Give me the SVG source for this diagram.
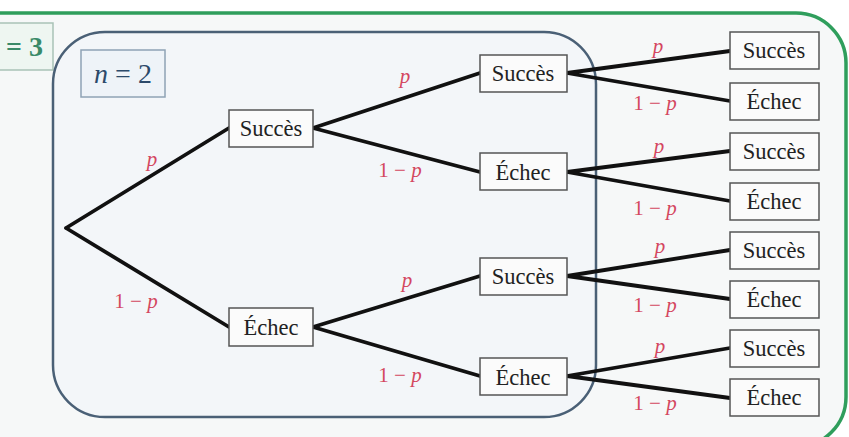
<svg xmlns="http://www.w3.org/2000/svg" width="849" height="437" viewBox="0 0 849 437">
<defs>
<style>
.bg{fill:#ffffff}
.outer{fill:#f6f8f8;stroke:#2f9e5c;stroke-width:3.5}
.inner{fill:#f3f6f9;stroke:#4a6076;stroke-width:2.5}
.tag3{fill:#eef6f1;stroke:#a9c2b6;stroke-width:1.5}
.tag2{fill:#eef3f8;stroke:#8fa3b5;stroke-width:1.5}
.box{fill:#fbfbfb;stroke:#555;stroke-width:1.5}
.lbl{font-family:"Liberation Serif","Times New Roman",serif;font-size:22.5px;fill:#222;text-anchor:middle}
.prob{font-family:"Liberation Serif","Times New Roman",serif;font-size:21px;fill:#d4475f;text-anchor:middle}
.it{font-style:italic}
.edge{stroke:#111;stroke-width:3.8;fill:none;stroke-linecap:round}
</style>
</defs>
<rect class="bg" x="0" y="0" width="849" height="437"/>
<rect class="outer" x="-60" y="13" width="906" height="434" rx="50" ry="50"/>
<g id="tag-n3">
<rect class="tag3" x="-6" y="23" width="59" height="47"/>
<text x="6" y="56" font-family="'Liberation Serif', serif" font-size="28" font-weight="bold" fill="#3a8a68">= 3</text>
</g>
<rect class="inner" x="53" y="32" width="543" height="385" rx="52" ry="52"/>
<g id="tag-n2">
<rect class="tag2" x="81" y="50" width="84" height="47"/>
<text x="123" y="83" text-anchor="middle" font-family="'Liberation Serif', serif" font-size="28" fill="#2c4a6a"><tspan font-style="italic">n</tspan> = 2</text>
</g>
<g id="connectors">
<path class="edge" d="M66 228 L229 128 M66 228 L229 327"/>
<path class="edge" d="M313 128 L480 73 M313 128 L480 172 M313 327 L480 276 M313 327 L480 376"/>
<path class="edge" d="M567 73 L730 51 M567 73 L730 101 M567 172 L730 151 M567 172 L730 201 M567 276 L730 250 M567 276 L730 299 M567 376 L730 348 M567 376 L730 398"/>
</g>
<g id="edge-labels">
<text class="prob it" x="152" y="166">p</text>
<text class="prob" x="136" y="308">1 − <tspan class="it">p</tspan></text>
<text class="prob it" x="405" y="83">p</text>
<text class="prob" x="400" y="177">1 − <tspan class="it">p</tspan></text>
<text class="prob it" x="407" y="287">p</text>
<text class="prob" x="400" y="382">1 − <tspan class="it">p</tspan></text>
<text class="prob it" x="658" y="53">p</text>
<text class="prob" x="655" y="110">1 − <tspan class="it">p</tspan></text>
<text class="prob it" x="659" y="153">p</text>
<text class="prob" x="655" y="215">1 − <tspan class="it">p</tspan></text>
<text class="prob it" x="660" y="253">p</text>
<text class="prob" x="655" y="312">1 − <tspan class="it">p</tspan></text>
<text class="prob it" x="660" y="353">p</text>
<text class="prob" x="655" y="410">1 − <tspan class="it">p</tspan></text>
</g>
<g id="n1-succes"><rect class="box" x="229" y="110" width="84" height="37"/><text class="lbl" x="271" y="136">Succès</text></g>
<g id="n1-echec"><rect class="box" x="229" y="308" width="84" height="38"/><text class="lbl" x="271" y="335">Échec</text></g>
<g id="n2-ss"><rect class="box" x="480" y="55" width="87" height="37"/><text class="lbl" x="523" y="81">Succès</text></g>
<g id="n2-se"><rect class="box" x="480" y="153" width="87" height="37"/><text class="lbl" x="523" y="180">Échec</text></g>
<g id="n2-es"><rect class="box" x="480" y="258" width="87" height="37"/><text class="lbl" x="523" y="284">Succès</text></g>
<g id="n2-ee"><rect class="box" x="480" y="358" width="87" height="37"/><text class="lbl" x="523" y="385">Échec</text></g>
<g id="n3-sss"><rect class="box" x="730" y="32" width="89" height="37"/><text class="lbl" x="774" y="58">Succès</text></g>
<g id="n3-sse"><rect class="box" x="730" y="83" width="89" height="37"/><text class="lbl" x="774" y="109">Échec</text></g>
<g id="n3-ses"><rect class="box" x="730" y="133" width="89" height="37"/><text class="lbl" x="774" y="159">Succès</text></g>
<g id="n3-see"><rect class="box" x="730" y="183" width="89" height="37"/><text class="lbl" x="774" y="209">Échec</text></g>
<g id="n3-ess"><rect class="box" x="730" y="232" width="89" height="37"/><text class="lbl" x="774" y="258">Succès</text></g>
<g id="n3-ese"><rect class="box" x="730" y="281" width="89" height="37"/><text class="lbl" x="774" y="307">Échec</text></g>
<g id="n3-ees"><rect class="box" x="730" y="330" width="89" height="37"/><text class="lbl" x="774" y="356">Succès</text></g>
<g id="n3-eee"><rect class="box" x="730" y="379" width="89" height="37"/><text class="lbl" x="774" y="405">Échec</text></g>
</svg>
